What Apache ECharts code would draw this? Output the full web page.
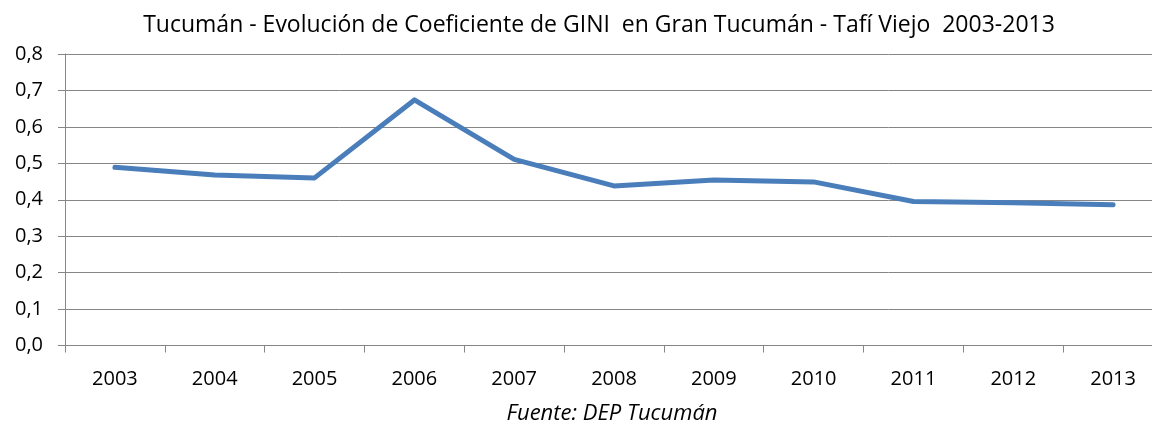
<!DOCTYPE html>
<html>
<head>
<meta charset="utf-8">
<script src="https://cdn.jsdelivr.net/npm/echarts@6/dist/echarts.min.js"></script>
<style>
html,body{margin:0;padding:0;background:#fff;overflow:hidden;width:1152px;height:421px;}
#c{width:1163px;height:421px;}
</style>
</head>
<body>
<div id="c"></div>
<script>
const titleText = 'Tucumán - Evolución de Coeficiente de GINI  en Gran Tucumán - Tafí Viejo  2003-2013';
const sourceText = 'Fuente: DEP Tucumán';
const years = ['2003','2004','2005','2006','2007','2008','2009','2010','2011','2012','2013'];
const gini = [0.489, 0.468, 0.460, 0.674, 0.511, 0.438, 0.454, 0.449, 0.395, 0.392, 0.386];
const yTicks = [0, 0.1, 0.2, 0.3, 0.4, 0.5, 0.6, 0.7, 0.8];

const font = '"Open Sans", "Noto Sans", sans-serif';
const chart = echarts.init(document.getElementById('c'), null, {renderer:'canvas'});
chart.setOption({
  animation: false,
  backgroundColor: '#ffffff',
  title: [
    {text: titleText, left: 594, top: 9, textAlign: 'center',
     textStyle: {fontFamily: font, fontSize: 23, fontWeight: 'normal', color: '#000'}},
    {text: sourceText, left: 607, top: 398, textAlign: 'center',
     textStyle: {fontFamily: font, fontSize: 22, fontWeight: 'normal', fontStyle: 'italic', color: '#000'}}
  ],
  grid: {left: 65, top: 54, right: 0, bottom: 75.5, containLabel: false},
  xAxis: {
    type: 'category',
    data: years,
    boundaryGap: true,
    axisLine: {show: true, lineStyle: {color: '#868686', width: 1}},
    axisTick: {show: true, alignWithLabel: false, length: 7, lineStyle: {color: '#868686'}},
    axisLabel: {fontFamily: font, fontSize: 20, color: '#000', margin: 24},
    splitLine: {show: false}
  },
  yAxis: {
    type: 'value',
    min: 0, max: 0.8, interval: 0.1,
    axisLine: {show: true, lineStyle: {color: '#868686', width: 1}},
    axisTick: {show: true, length: 7, lineStyle: {color: '#868686'}},
    axisLabel: {fontFamily: font, fontSize: 20, color: '#000', margin: 22,
      formatter: v => v.toFixed(1).replace('.', ',')},
    splitLine: {show: true, lineStyle: {color: '#868686', width: 1}}
  },
  series: [{
    type: 'line',
    data: gini,
    showSymbol: false,
    symbol: 'none',
    lineStyle: {color: '#4a7ebb', width: 5, cap: 'round', join: 'round'},
    itemStyle: {color: '#4a7ebb'}
  }]
});
</script>
</body>
</html>
